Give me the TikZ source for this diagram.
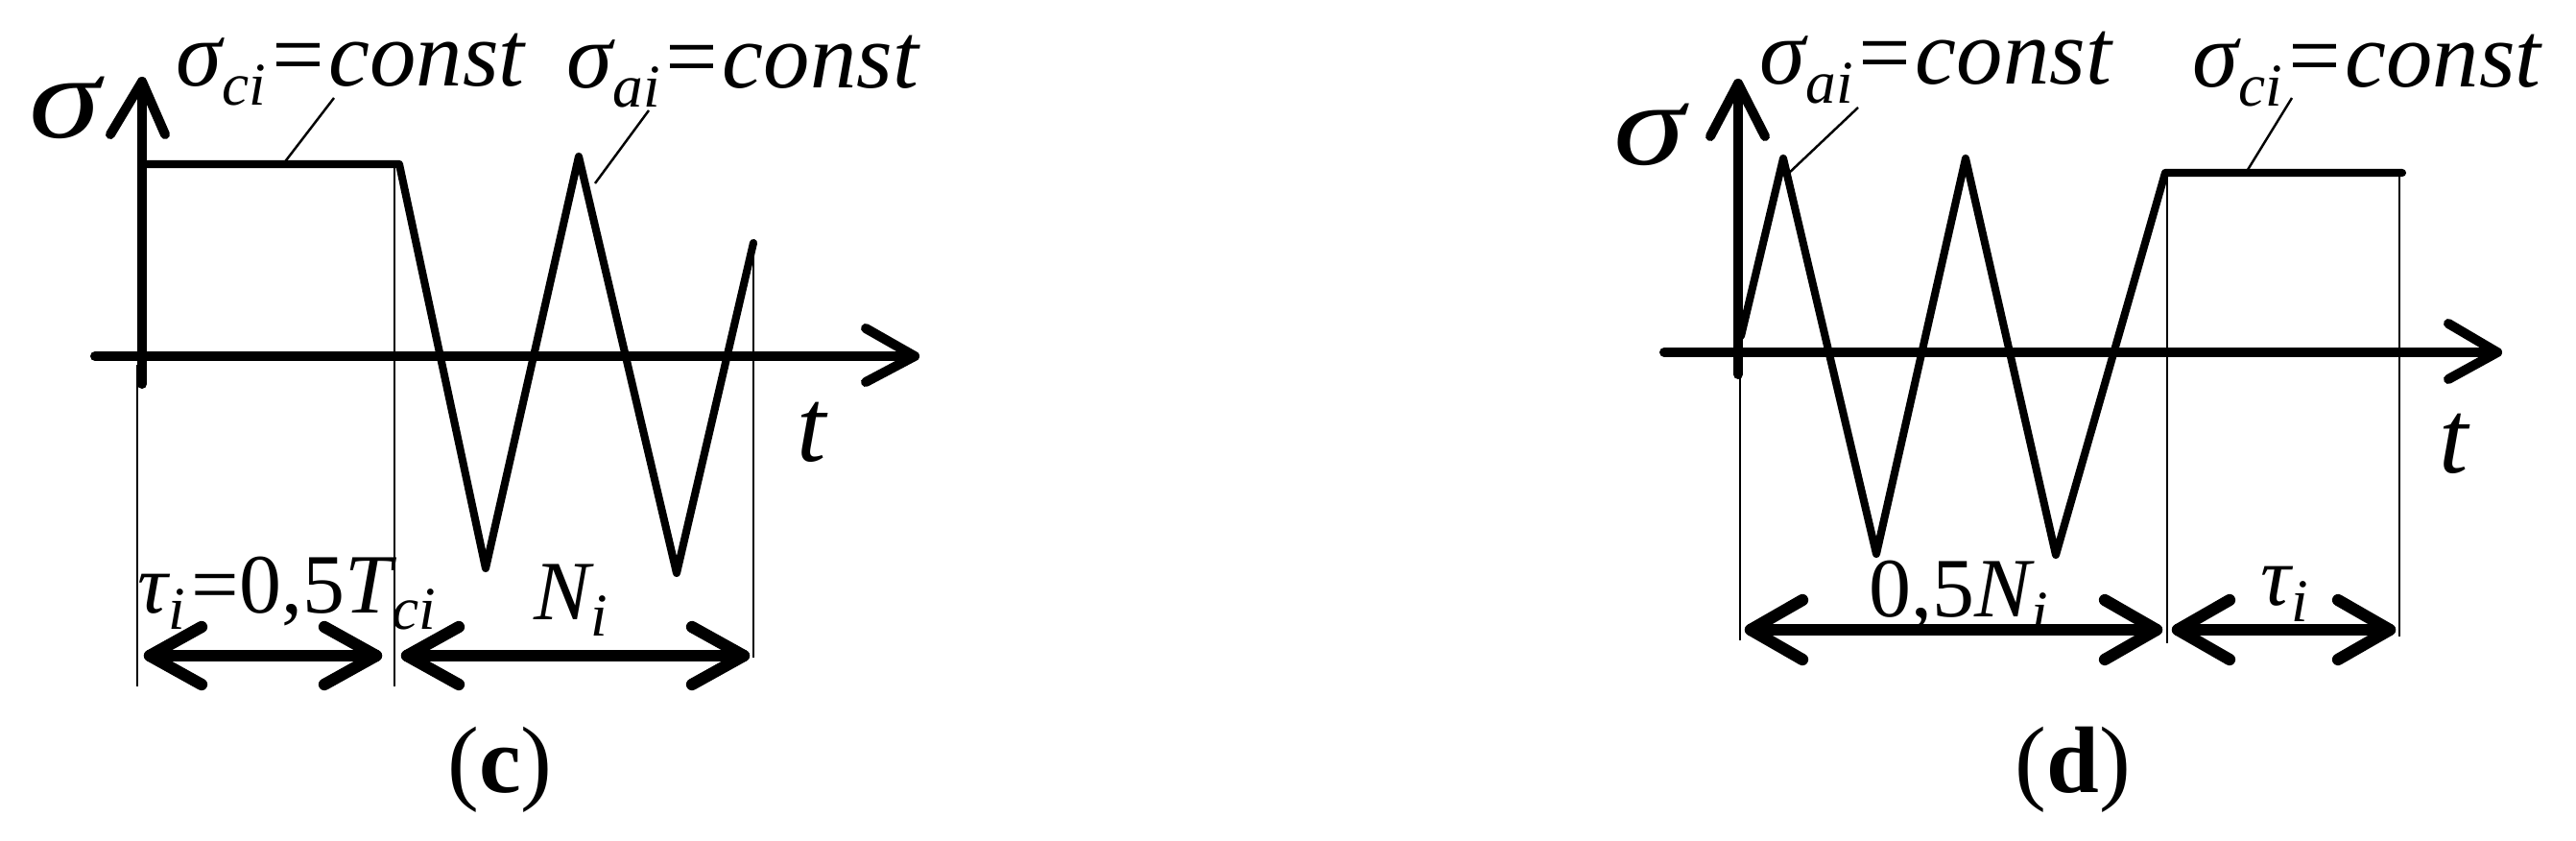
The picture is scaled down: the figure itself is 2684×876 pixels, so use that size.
\documentclass[tikz,border=0pt]{standalone}
\usepackage{fontspec}
\setmainfont{Liberation Serif}
\newcommand\sbs[1]{\raisebox{-0.2em}{\fontsize{18}{18}\selectfont #1}}
\newcommand\wsig{\scalebox{1.22}[1]{σ}}
\begin{document}
\begin{tikzpicture}[x=0.01cm,y=-0.01cm,
  axis/.style={line width=2.85pt, line cap=round, line join=round},
  sig/.style={line width=2.3pt, line cap=round, line join=round},
  thinl/.style={line width=0.7pt},
  dimarr/.style={line width=3.5pt, line cap=round, line join=round},
  lbl/.style={anchor=base west, inner sep=0pt, font=\fontsize{27.5}{30}\selectfont\itshape},
  lblb/.style={anchor=base west, inner sep=0pt, font=\fontsize{25}{28}\selectfont\itshape},
  big/.style={anchor=base west, inner sep=0pt, font=\fontsize{35}{38}\selectfont\itshape},
  tl/.style={anchor=base west, inner sep=0pt, font=\fontsize{31}{34}\selectfont\itshape},
  captxt/.style={anchor=base, inner sep=0pt, font=\fontsize{28}{30}\selectfont}]
\useasboundingbox (0,0) rectangle (2684,876);
% ===== panel (c) =====
\draw[thinl] (143,380) -- (143,715);
\draw[thinl] (411,171) -- (411,715);
\draw[thinl] (785,253) -- (785,685);
\draw[axis] (148,400) -- (148,85);
\draw[axis] (115,140) -- (148,85) -- (172,140);
\draw[axis] (99,371) -- (953,371);
\draw[axis] (902,342) -- (953,371) -- (902,398);
\draw[sig] (148,171) -- (416,171) -- (506,592) -- (603,163) -- (705,597) -- (785,253);
\draw[thinl] (348,102) -- (295,171);
\draw[thinl] (676,115) -- (620,191);
\node[lbl] (c1) at (183,90) {σ\sbs{ci}=const};
\node[lbl] (c2) at (590,92) {σ\sbs{ai}=const};
\node[big] (cs) at (30,144) {\wsig};
\node[tl] (ct) at (830,480) {t};
\draw[dimarr] (156,683) -- (392,683);
\draw[dimarr] (210,653) -- (156,683) -- (210,713);
\draw[dimarr] (338,653) -- (392,683) -- (338,713);
\draw[dimarr] (424,683) -- (775,683);
\draw[dimarr] (478,653) -- (424,683) -- (478,713);
\draw[dimarr] (721,653) -- (775,683) -- (721,713);
\node[lblb] (c3) at (143,638) {τ\sbs{i}\kern0.08em{\upshape =0,5}T\sbs{ci}};
\node[lblb] (c4) at (556,645) {N\sbs{i}};
\node[captxt] (cc) at (521,825) {(\textbf{c})};
% ===== panel (d) =====
\draw[thinl] (1813,380) -- (1813,667);
\draw[thinl] (2258,180) -- (2258,670);
\draw[thinl] (2500,180) -- (2500,663);
\draw[axis] (1811,390) -- (1811,87);
\draw[axis] (1782,142) -- (1811,87) -- (1839,142);
\draw[axis] (1734,367) -- (2602,367);
\draw[axis] (2551,337) -- (2602,367) -- (2551,395);
\draw[sig] (1814,350) -- (1858,165) -- (1955,577) -- (2048,165) -- (2142,578) -- (2256,180) -- (2503,180);
\draw[thinl] (1936,112) -- (1862,182);
\draw[thinl] (2388,102) -- (2340,180);
\node[lbl] (d1) at (1833,88) {σ\sbs{ai}=const};
\node[lbl] (d2) at (2284,91) {σ\sbs{ci}=const};
\node[big] (ds) at (1681,172) {\wsig};
\node[tl] (dt) at (2541,492) {t};
\draw[dimarr] (1824,656) -- (2247,656);
\draw[dimarr] (1878,625) -- (1824,656) -- (1878,687);
\draw[dimarr] (2193,625) -- (2247,656) -- (2193,687);
\draw[dimarr] (2269,656) -- (2490,656);
\draw[dimarr] (2323,625) -- (2269,656) -- (2323,687);
\draw[dimarr] (2436,625) -- (2490,656) -- (2436,687);
\node[lblb] (d3) at (1947,642) {{\upshape 0,5}N\sbs{i}};
\node[lblb] (d4) at (2355,630) {τ\sbs{i}};
\node[captxt] (dc) at (2160,825) {(\textbf{d})};
\end{tikzpicture}
\end{document}
